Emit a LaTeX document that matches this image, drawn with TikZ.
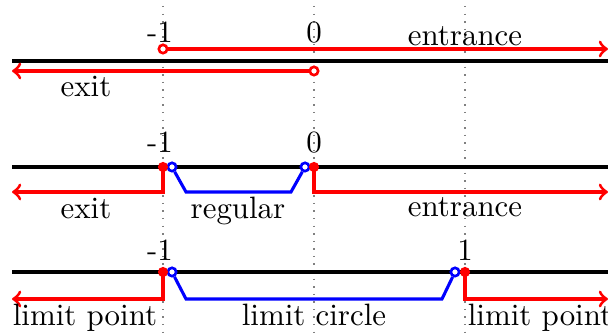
\documentclass[tikz,border=0pt]{standalone}
\begin{document}
\begin{tikzpicture}[x=0.3236pt,y=-0.3236pt,
  axis/.style={line width=1.05pt,black},
  redl/.style={line width=1pt,red},
  bluel/.style={line width=1pt,blue},
  guide/.style={gray,dotted,line width=0.45pt},
  opendot/.style={circle,line width=0.85pt,fill=white,inner sep=0pt,minimum size=2.7pt},
  fulldot/.style={circle,fill=red,inner sep=0pt,minimum size=3.3pt},
  lbl/.style={anchor=base,inner sep=0pt}]
\useasboundingbox (0,0) rectangle (608,333);
% guides
\coordinate (g1t) at (163,6); \coordinate (g1b) at (163,333);
\coordinate (g2t) at (314,6); \coordinate (g2b) at (314,333);
\coordinate (g3t) at (465,6); \coordinate (g3b) at (465,333);
\draw[guide] (g1t) -- (g1b);
\draw[guide] (g2t) -- (g2b);
\draw[guide] (g3t) -- (g3b);
% row 1
\coordinate (L1) at (12,61); \coordinate (R1) at (608,61);
\draw[axis] (L1) -- (R1);
\coordinate (ae) at (608,49); \coordinate (be) at (12,71);
\node[opendot,draw=red] (a1) at (163,49) {};
\node[opendot,draw=red] (b1) at (314,71) {};
\draw[redl,->] (a1) -- (ae);
\draw[redl,->] (b1) -- (be);
\node[lbl] (t11) at (160,43) {-1};
\node[lbl] (t12) at (314,43) {0};
\node[lbl] (t13) at (465,46) {entrance};
\node[lbl] (t14) at (86,97) {exit};
% row 2
\coordinate (L2) at (12,167); \coordinate (R2) at (608,167);
\draw[axis] (L2) -- (R2);
\coordinate (c2) at (163,167); \coordinate (c2a) at (163,192); \coordinate (c2b) at (12,192);
\coordinate (d2a) at (186,192); \coordinate (d2b) at (291,192);
\coordinate (f2) at (314,167); \coordinate (f2a) at (314,192); \coordinate (f2b) at (608,192);
\node[opendot,draw=blue] (d2) at (172,167) {};
\node[opendot,draw=blue] (e2) at (305,167) {};
\draw[redl,->] (c2) -- (c2a) -- (c2b);
\draw[redl,->] (f2) -- (f2a) -- (f2b);
\draw[bluel] (d2) -- (d2a) -- (d2b) -- (e2);
\node[fulldot] (c2d) at (c2) {};
\node[fulldot] (f2d) at (f2) {};
\node[lbl] (t21) at (160,153) {-1};
\node[lbl] (t22) at (314,153) {0};
\node[lbl] (t23) at (86,219) {exit};
\node[lbl] (t24) at (238,219) {regular};
\node[lbl] (t25) at (465,217) {entrance};
% row 3
\coordinate (L3) at (12,272); \coordinate (R3) at (608,272);
\draw[axis] (L3) -- (R3);
\coordinate (c3) at (163,272); \coordinate (c3a) at (163,299); \coordinate (c3b) at (12,299);
\coordinate (d3a) at (186,299); \coordinate (d3b) at (442,299);
\coordinate (f3) at (465,272); \coordinate (f3a) at (465,299); \coordinate (f3b) at (608,299);
\node[opendot,draw=blue] (d3) at (172,272) {};
\node[opendot,draw=blue] (e3) at (455,272) {};
\draw[redl,->] (c3) -- (c3a) -- (c3b);
\draw[redl,->] (f3) -- (f3a) -- (f3b);
\draw[bluel] (d3) -- (d3a) -- (d3b) -- (e3);
\node[fulldot] (c3d) at (c3) {};
\node[fulldot] (f3d) at (f3) {};
\node[lbl] (t31) at (160,261) {-1};
\node[lbl] (t32) at (465,261) {1};
\node[lbl] (t33) at (85,326) {limit point};
\node[lbl] (t34) at (314,326) {limit circle};
\node[lbl] (t35) at (540,326) {limit point};
\end{tikzpicture}
\end{document}
